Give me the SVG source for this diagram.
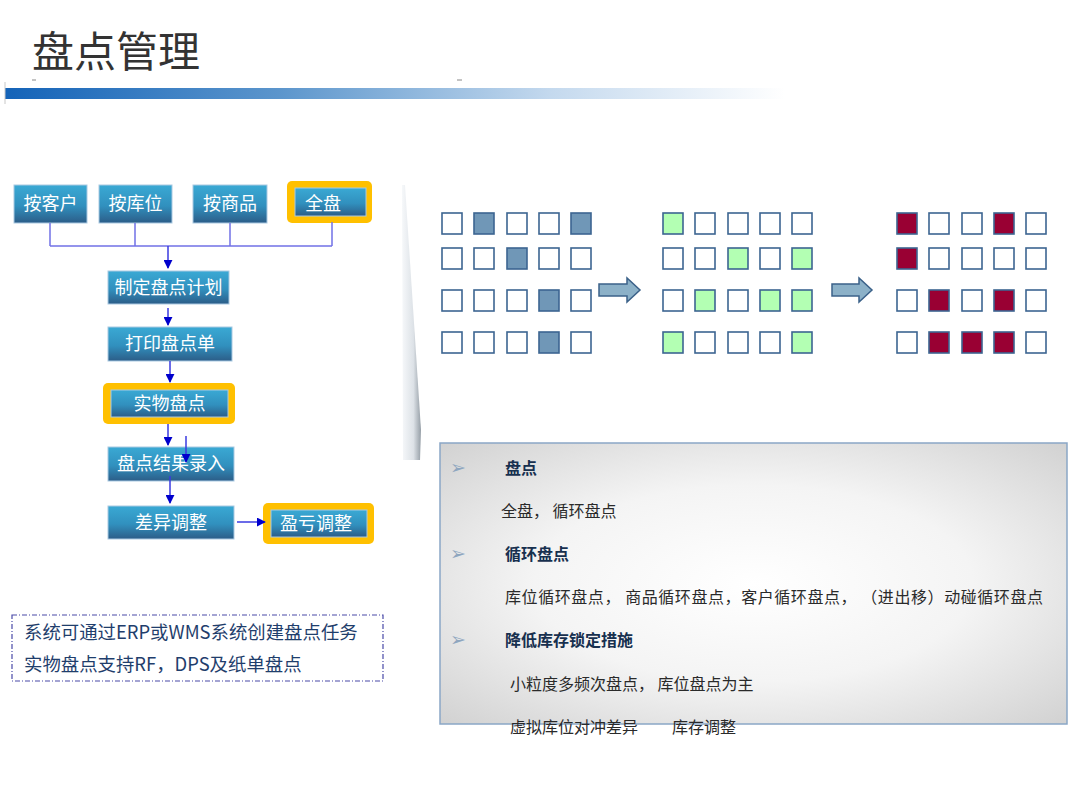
<svg xmlns="http://www.w3.org/2000/svg" width="1080" height="810" viewBox="0 0 1080 810">
<defs>
<style>
.cjk{font-family:"Noto Sans CJK SC","Liberation Sans",sans-serif;}
.btn{fill:url(#btnGrad);stroke:#a9c9e2;stroke-width:1;}
.frame{fill:#ffc000;}
.btxt{font-size:18px;fill:#ffffff;text-anchor:middle;}
.cell{fill:#ffffff;stroke:#3c6591;stroke-width:1.6;}
.c1{fill:#7097b7;}
.c2{fill:#b3ffb3;}
.c3{fill:#990033;}
.conn{fill:none;stroke:#3a3ae0;stroke-width:1.5;}
.conn2{fill:none;stroke:#7272e6;stroke-width:1.5;}
.barrow{fill:#8cb1c8;stroke:#3b6189;stroke-width:1.5;}
.hd{font-size:16px;font-weight:bold;fill:#17304f;}
.bd{font-size:16px;fill:#2a2a2a;}
.bul{font-size:19px;fill:#8ea6bf;font-family:"DejaVu Sans",sans-serif;}
.note{font-size:18.4px;fill:#1f3e6c;}
</style>
<linearGradient id="btnGrad" x1="0" y1="0" x2="0" y2="1">
<stop offset="0" stop-color="#3aa9d4"/>
<stop offset="0.55" stop-color="#3190be"/>
<stop offset="1" stop-color="#2c5d88"/>
</linearGradient>
<linearGradient id="barGrad" x1="0" y1="0" x2="1" y2="0">
<stop offset="0" stop-color="#1463b8"/>
<stop offset="0.35" stop-color="#5b95cc"/>
<stop offset="0.7" stop-color="#c4d9ee"/>
<stop offset="1" stop-color="#ffffff"/>
</linearGradient>
<linearGradient id="wedgeGrad" x1="0" y1="0" x2="1" y2="0">
<stop offset="0" stop-color="#f6f8fa"/>
<stop offset="0.6" stop-color="#dde2e7"/>
<stop offset="1" stop-color="#959ea6"/>
</linearGradient>
<radialGradient id="boxGrad" cx="0.5" cy="0.5" r="0.7">
<stop offset="0" stop-color="#ffffff"/>
<stop offset="0.5" stop-color="#f4f4f4"/>
<stop offset="1" stop-color="#d2d2d2"/>
</radialGradient>
<marker id="ah" viewBox="0 0 10 10" refX="9" refY="5" markerWidth="6" markerHeight="6" orient="auto" markerUnits="strokeWidth">
<path d="M0,0 L10,5 L0,10 z" fill="#0000cc"/>
</marker>
</defs>
<rect width="1080" height="810" fill="#ffffff"/>

<g id="header">
<text x="32" y="67" class="cjk" font-size="42" fill="#333333">盘点管理</text>
<rect x="5" y="88" width="780" height="11" fill="url(#barGrad)"/>
<line x1="5" y1="82" x2="5" y2="104" stroke="#c8c8c8" stroke-width="1"/>
<line x1="32" y1="80" x2="36" y2="80" stroke="#888888" stroke-width="1"/>
<line x1="457" y1="80" x2="462" y2="80" stroke="#888888" stroke-width="1"/>
</g>

<g id="n-kehu" class="cjk"><rect class="btn" x="14" y="185" width="73" height="38"/><text class="btxt" x="50.5" y="210">按客户</text></g>
<g id="n-kuwei" class="cjk"><rect class="btn" x="99" y="185" width="73" height="38"/><text class="btxt" x="135.5" y="210">按库位</text></g>
<g id="n-shangpin" class="cjk"><rect class="btn" x="193" y="185" width="74" height="38"/><text class="btxt" x="230" y="210">按商品</text></g>
<g id="n-quanpan" class="cjk"><rect class="frame" x="287" y="181" width="85" height="42" rx="5"/><rect class="btn" x="295" y="188" width="71" height="28"/><text class="btxt" x="323" y="209.5">全盘</text></g>

<g id="n-jihua" class="cjk"><rect class="btn" x="108" y="271" width="121" height="33"/><text class="btxt" x="168.5" y="294">制定盘点计划</text></g>
<g id="n-dayin" class="cjk"><rect class="btn" x="108" y="327" width="124" height="34"/><text class="btxt" x="170" y="350">打印盘点单</text></g>
<g id="n-shiwu" class="cjk"><rect class="frame" x="103" y="383" width="132" height="41" rx="5"/><rect class="btn" x="111" y="390" width="117" height="27"/><text class="btxt" x="169.5" y="410">实物盘点</text></g>
<g id="n-luru" class="cjk"><rect class="btn" x="108" y="447" width="126" height="34"/><text class="btxt" x="171" y="470">盘点结果录入</text></g>
<g id="n-chayi" class="cjk"><rect class="btn" x="108" y="506" width="126" height="33"/><text class="btxt" x="171" y="529">差异调整</text></g>
<g id="n-yingkui" class="cjk"><rect class="frame" x="263" y="503" width="111" height="41" rx="5"/><rect class="btn" x="271" y="510" width="96" height="27"/><text class="btxt" x="316" y="530">盈亏调整</text></g>

<g id="connectors">
<path class="conn2" d="M50,223 V246 M135,223 V246 M230,223 V246 M332,222 V246 M50,246 H332"/>
<line class="conn" x1="168" y1="246" x2="168" y2="268" marker-end="url(#ah)"/>
<line class="conn" x1="168" y1="308" x2="168" y2="325" marker-end="url(#ah)"/>
<line class="conn" x1="170" y1="361" x2="170" y2="382" marker-end="url(#ah)"/>
<line class="conn" x1="168" y1="424" x2="168" y2="445" marker-end="url(#ah)"/>
<line class="conn" x1="186" y1="436" x2="186" y2="462" marker-end="url(#ah)"/>
<line class="conn" x1="170" y1="476" x2="170" y2="503" marker-end="url(#ah)"/>
<line class="conn" x1="237" y1="522" x2="265" y2="522" marker-end="url(#ah)"/>
</g>

<g id="note" class="cjk">
<rect x="12" y="615" width="371" height="66" fill="none" stroke="#4a4aa8" stroke-width="1.2" stroke-dasharray="5,2,1,2"/>
<text class="note" x="24" y="639">系统可通过ERP或WMS系统创建盘点任务</text>
<text class="note" x="24" y="671">实物盘点支持RF，DPS及纸单盘点</text>
</g>

<g id="separator">
<polygon points="402,185 405,185 421,430 420,460 403,460" fill="url(#wedgeGrad)"/>
</g>

<g id="grid1">
<rect class="cell" x="442" y="213" width="20" height="21"/><rect class="cell c1" x="474" y="213" width="20" height="21"/><rect class="cell" x="507" y="213" width="20" height="21"/><rect class="cell" x="539" y="213" width="20" height="21"/><rect class="cell c1" x="571" y="213" width="20" height="21"/>
<rect class="cell" x="442" y="248" width="20" height="21"/><rect class="cell" x="474" y="248" width="20" height="21"/><rect class="cell c1" x="507" y="248" width="20" height="21"/><rect class="cell" x="539" y="248" width="20" height="21"/><rect class="cell" x="571" y="248" width="20" height="21"/>
<rect class="cell" x="442" y="290" width="20" height="21"/><rect class="cell" x="474" y="290" width="20" height="21"/><rect class="cell" x="507" y="290" width="20" height="21"/><rect class="cell c1" x="539" y="290" width="20" height="21"/><rect class="cell" x="571" y="290" width="20" height="21"/>
<rect class="cell" x="442" y="332" width="20" height="21"/><rect class="cell" x="474" y="332" width="20" height="21"/><rect class="cell" x="507" y="332" width="20" height="21"/><rect class="cell c1" x="539" y="332" width="20" height="21"/><rect class="cell" x="571" y="332" width="20" height="21"/>
</g>
<g id="arrow1"><polygon class="barrow" points="599,284 627,284 627,278 640,290 627,302 627,296 599,296"/></g>
<g id="grid2">
<rect class="cell c2" x="663" y="213" width="20" height="21"/><rect class="cell" x="695" y="213" width="20" height="21"/><rect class="cell" x="728" y="213" width="20" height="21"/><rect class="cell" x="760" y="213" width="20" height="21"/><rect class="cell" x="792" y="213" width="20" height="21"/>
<rect class="cell" x="663" y="248" width="20" height="21"/><rect class="cell" x="695" y="248" width="20" height="21"/><rect class="cell c2" x="728" y="248" width="20" height="21"/><rect class="cell" x="760" y="248" width="20" height="21"/><rect class="cell c2" x="792" y="248" width="20" height="21"/>
<rect class="cell" x="663" y="290" width="20" height="21"/><rect class="cell c2" x="695" y="290" width="20" height="21"/><rect class="cell" x="728" y="290" width="20" height="21"/><rect class="cell c2" x="760" y="290" width="20" height="21"/><rect class="cell c2" x="792" y="290" width="20" height="21"/>
<rect class="cell c2" x="663" y="332" width="20" height="21"/><rect class="cell" x="695" y="332" width="20" height="21"/><rect class="cell" x="728" y="332" width="20" height="21"/><rect class="cell" x="760" y="332" width="20" height="21"/><rect class="cell c2" x="792" y="332" width="20" height="21"/>
</g>
<g id="arrow2"><polygon class="barrow" points="832,284 859,284 859,278 872,290 859,302 859,296 832,296"/></g>
<g id="grid3">
<rect class="cell c3" x="897" y="213" width="20" height="21"/><rect class="cell" x="929" y="213" width="20" height="21"/><rect class="cell" x="962" y="213" width="20" height="21"/><rect class="cell c3" x="994" y="213" width="20" height="21"/><rect class="cell" x="1026" y="213" width="20" height="21"/>
<rect class="cell c3" x="897" y="248" width="20" height="21"/><rect class="cell" x="929" y="248" width="20" height="21"/><rect class="cell" x="962" y="248" width="20" height="21"/><rect class="cell" x="994" y="248" width="20" height="21"/><rect class="cell" x="1026" y="248" width="20" height="21"/>
<rect class="cell" x="897" y="290" width="20" height="21"/><rect class="cell c3" x="929" y="290" width="20" height="21"/><rect class="cell" x="962" y="290" width="20" height="21"/><rect class="cell c3" x="994" y="290" width="20" height="21"/><rect class="cell" x="1026" y="290" width="20" height="21"/>
<rect class="cell" x="897" y="332" width="20" height="21"/><rect class="cell c3" x="929" y="332" width="20" height="21"/><rect class="cell c3" x="962" y="332" width="20" height="21"/><rect class="cell c3" x="994" y="332" width="20" height="21"/><rect class="cell" x="1026" y="332" width="20" height="21"/>
</g>

<g id="infobox" class="cjk">
<rect x="440" y="443" width="627" height="281" fill="url(#boxGrad)" stroke="#8aa7c6" stroke-width="1.5"/>
<text class="bul" x="450" y="474">➢</text>
<text class="hd" x="505" y="474">盘点</text>
<text class="bd" x="501" y="517">全盘， 循环盘点</text>
<text class="bul" x="450" y="560">➢</text>
<text class="hd" x="505" y="560">循环盘点</text>
<text class="bd" x="505" y="603" textLength="538" lengthAdjust="spacing">库位循环盘点， 商品循环盘点，客户循环盘点， （进出移）动碰循环盘点</text>
<text class="bul" x="450" y="646">➢</text>
<text class="hd" x="505" y="646">降低库存锁定措施</text>
<text class="bd" x="510" y="690">小粒度多频次盘点， 库位盘点为主</text>
<text class="bd" x="510" y="733">虚拟库位对冲差异</text>
<text class="bd" x="672" y="733">库存调整</text>
</g>
</svg>
